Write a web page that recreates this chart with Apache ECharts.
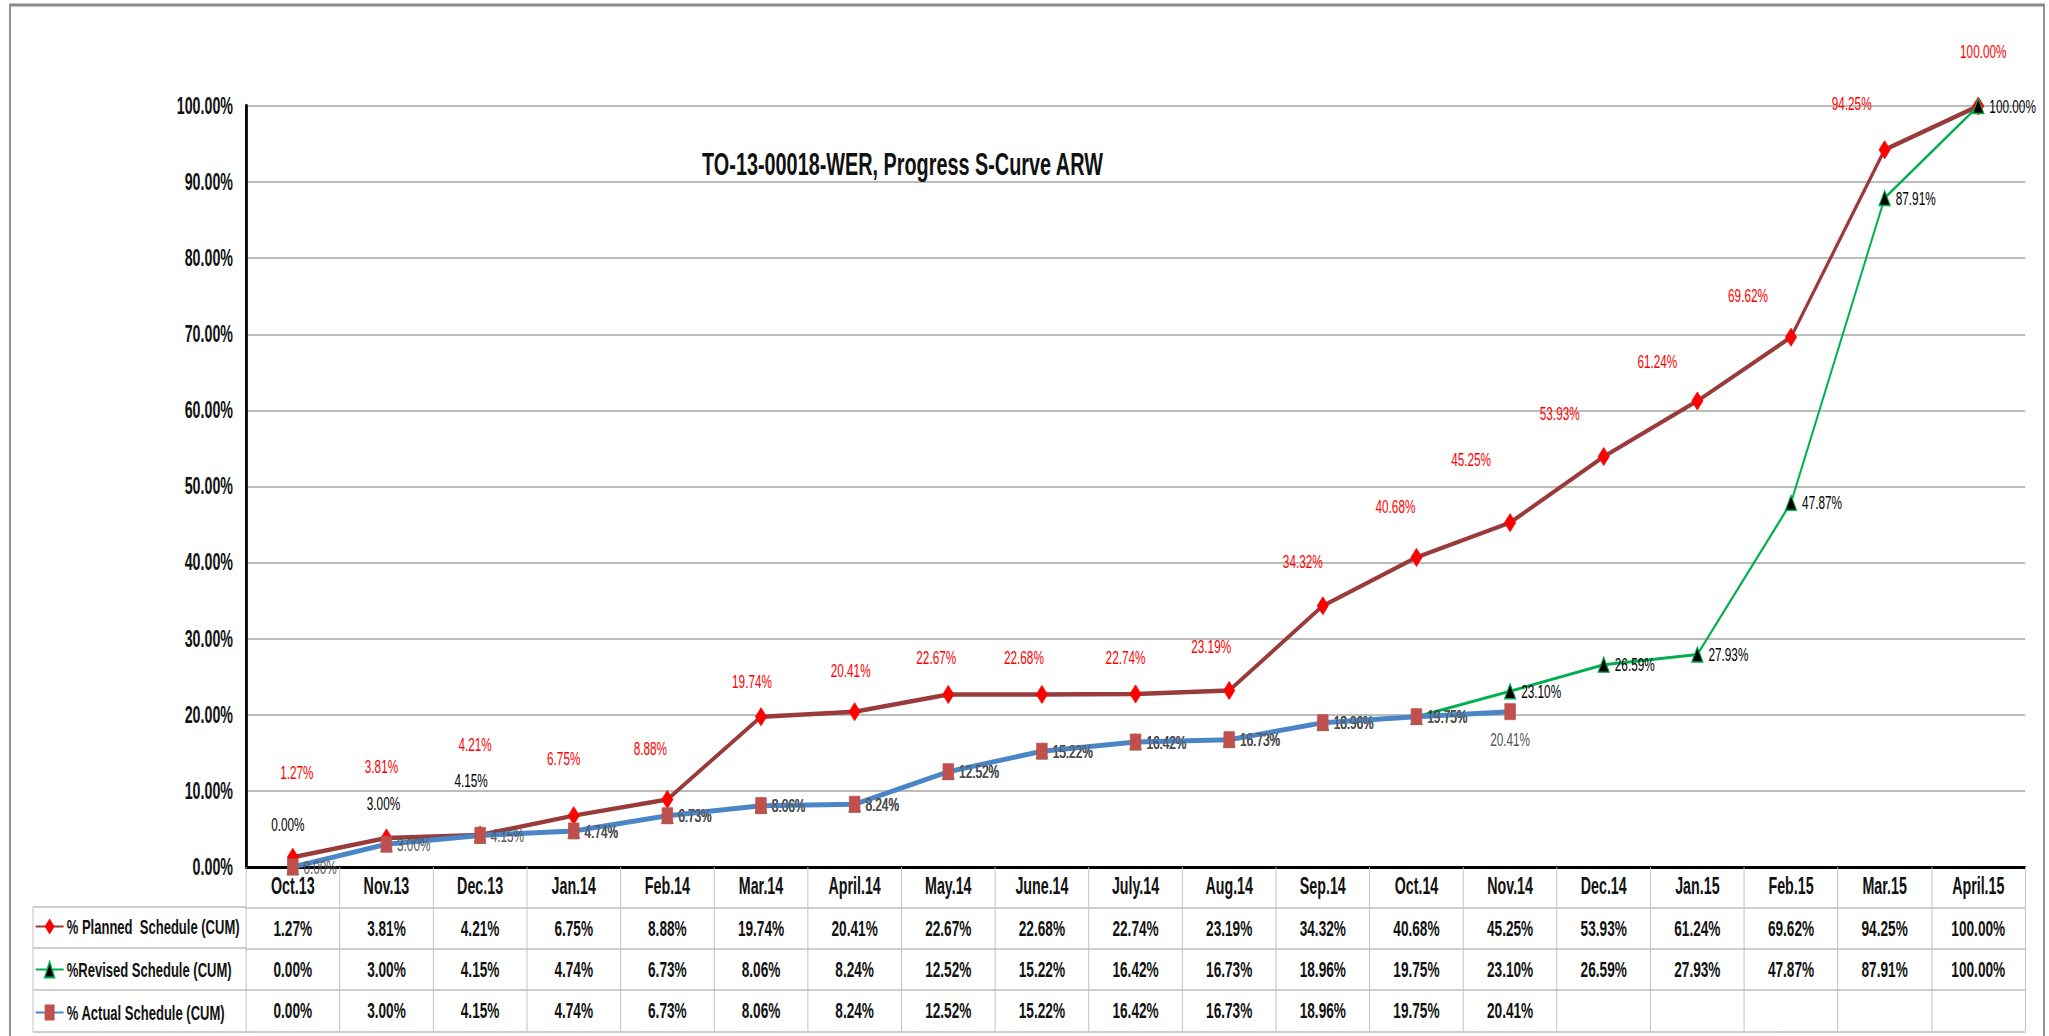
<!DOCTYPE html>
<html>
<head>
<meta charset="utf-8">
<script src="https://cdn.jsdelivr.net/npm/echarts@6/dist/echarts.min.js"></script>
<style>
html,body{margin:0;padding:0;background:#fff;overflow:hidden;}
#wrap{width:2049px;height:1036px;overflow:hidden;position:relative;}
#chart{height:1036px;transform-origin:0 0;position:absolute;left:0;top:0;}
</style>
</head>
<body>
<div id="wrap"><div id="chart"></div></div>
<script>
// ---- data ----
const categories = ['Oct.13','Nov.13','Dec.13','Jan.14','Feb.14','Mar.14','April.14','May.14','June.14','July.14','Aug.14','Sep.14','Oct.14','Nov.14','Dec.14','Jan.15','Feb.15','Mar.15','April.15'];
const planned = [1.27,3.81,4.21,6.75,8.88,19.74,20.41,22.67,22.68,22.74,23.19,34.32,40.68,45.25,53.93,61.24,69.62,94.25,100.00];
const revised = [0.00,3.00,4.15,4.74,6.73,8.06,8.24,12.52,15.22,16.42,16.73,18.96,19.75,23.10,26.59,27.93,47.87,87.91,100.00];
const actual  = [0.00,3.00,4.15,4.74,6.73,8.06,8.24,12.52,15.22,16.42,16.73,18.96,19.75,20.41,null,null,null,null,null];
const seriesNames = ['% Planned  Schedule (CUM)','%Revised Schedule (CUM)','% Actual Schedule (CUM)'];
const yTicks = [0,10,20,30,40,50,60,70,80,90,100];

// label placement in screen px (styling, not data)
const plannedLabelOffset = [[4,-85],[-5,-72],[-5,-91],[-10,-57],[-17,-51],[-9,-35],[-4,-41],[-12,-37],[-18,-37],[-10,-37],[-18,-44],[-20,-44],[-21,-51],[-39,-63],[-44,-43],[-40,-40],[-43,-42],[-33,-46],[5,-55]];
const revisedLabelOffset = {0:[-5,-43],1:[-3,-41],2:[-9,-55]};

// The original picture is horizontally compressed; draw wider and squeeze.
const S = 0.62;
const W = 2049, H = 1036;
const X = v => v / S;             // screen x -> chart x
const off = o => [o[0] / S, o[1]];

const el = document.getElementById('chart');
el.style.width = (W / S) + 'px';
el.style.transform = 'scaleX(' + S + ')';

const FONT = '"Liberation Sans", Arial, sans-serif';
const fmt = v => (v === null || v === undefined) ? '' : v.toFixed(2) + '%';

const chart = echarts.init(el, null, {renderer:'svg'});

const GRID_C = '#bfbfbf';
const tableAxis = (vals, offset) => ({
  type:'category', data: vals.map(fmt), position:'bottom', offset: offset,
  boundaryGap:true,
  axisLine:{show:true, lineStyle:{color:GRID_C, width:1.5}},
  axisTick:{show:true, interval:0, length:41, lineStyle:{color:GRID_C, width:1.5}},
  axisLabel:{interval:0, margin:9, fontSize:22, fontWeight:'bold', color:'#111', fontFamily:FONT},
  splitLine:{show:false}
});

const hline = (x1, x2, y) => ({type:'line', shape:{x1:X(x1), y1:y, x2:X(x2), y2:y}, style:{stroke:GRID_C, lineWidth:1.5}, silent:true});

const option = {
  backgroundColor:'#fff',
  animation:false,
  title:{
    text:'TO-13-00018-WER, Progress S-Curve ARW',
    left:X(699), top:143,
    textStyle:{fontFamily:FONT, fontSize:32, fontWeight:'bold', color:'#111'}
  },
  legend:{
    orient:'vertical', left:X(35), top:916, padding:0,
    itemWidth:X(28), itemHeight:20, itemGap:22,
    data: seriesNames,
    textStyle:{fontFamily:FONT, fontSize:21, fontWeight:'bold', color:'#111', lineHeight:20}
  },
  grid:{left:X(246), right:X(24), top:106, bottom:169, containLabel:false},
  xAxis:[
    {
      type:'category', data:categories, position:'bottom', boundaryGap:true,
      axisLine:{show:true, lineStyle:{color:'#000', width:3}},
      axisTick:{show:true, interval:0, length:40, lineStyle:{color:GRID_C, width:1.5}},
      axisLabel:{interval:0, margin:8, fontSize:23, fontWeight:'bold', color:'#111', fontFamily:FONT},
      splitLine:{show:false}
    },
    tableAxis(planned, 41),
    tableAxis(revised, 82),
    tableAxis(actual, 123),
    {
      type:'category', data:categories, position:'bottom', offset:165, boundaryGap:true,
      axisLine:{show:true, lineStyle:{color:GRID_C, width:1.5}},
      axisTick:{show:false}, axisLabel:{show:false}
    }
  ],
  yAxis:{
    type:'value', min:yTicks[0], max:yTicks[yTicks.length-1], interval:10,
    axisLine:{show:true, lineStyle:{color:'#000', width:4.5}},
    axisTick:{show:false},
    axisLabel:{formatter:v => v.toFixed(2)+'%', fontSize:23, fontWeight:'bold', color:'#111', fontFamily:FONT, margin:X(13)},
    splitLine:{show:true, lineStyle:{color:'#a6a6a6', width:1.5}}
  },
  series:[
    {
      name:seriesNames[0], type:'line', z:2,
      data: planned.map((v,i)=>({value:v, label:{offset:off(plannedLabelOffset[i])}})),
      symbol:'diamond', symbolSize:[18,18],
      lineStyle:{color:'#993B3B', width:4.5},
      itemStyle:{color:'#FF0000', borderColor:'#FF0000'},
      label:{show:true, position:'inside', formatter:p=>fmt(p.value), color:'#FF0000', fontSize:19, fontFamily:FONT}
    },
    {
      name:seriesNames[1], type:'line', z:3,
      data: revised.map((v,i)=> revisedLabelOffset[i] ? {value:v, label:{position:'inside', offset:off(revisedLabelOffset[i])}} : {value:v}),
      symbol:'triangle', symbolSize:[18,15],
      lineStyle:{color:'#00B050', width:3},
      itemStyle:{color:'#000', borderColor:'#00B050', borderWidth:1.5},
      label:{show:true, position:'right', distance:X(5), formatter:p=>fmt(p.value), color:'#000', fontSize:19, fontFamily:FONT}
    },
    {
      name:seriesNames[2], type:'line', z:4,
      data: actual.map((v,i)=> i===13 ? {value:v, label:{position:'bottom', distance:10}} : {value:v}),
      symbol:'rect', symbolSize:[17,16],
      lineStyle:{color:'#4A86C5', width:5},
      itemStyle:{color:'#C0504D', borderColor:'#C0504D'},
      label:{show:true, position:'right', distance:X(5), formatter:p=>fmt(p.value), color:'#555', fontSize:19, fontFamily:FONT}
    }
  ],
  graphic:[
    {type:'rect', shape:{x:X(10), y:5, width:X(2034), height:1040}, style:{fill:'none', stroke:'#8a8a8a', lineWidth:3}, silent:true, z:-1},
    hline(33, 246, 907), hline(33, 246, 948), hline(33, 246, 990), hline(33, 246, 1032),
    {type:'line', shape:{x1:X(33), y1:907, x2:X(33), y2:1032}, style:{stroke:GRID_C, lineWidth:1.5}, silent:true}
  ]
};
chart.setOption(option);
</script>
</body>
</html>
